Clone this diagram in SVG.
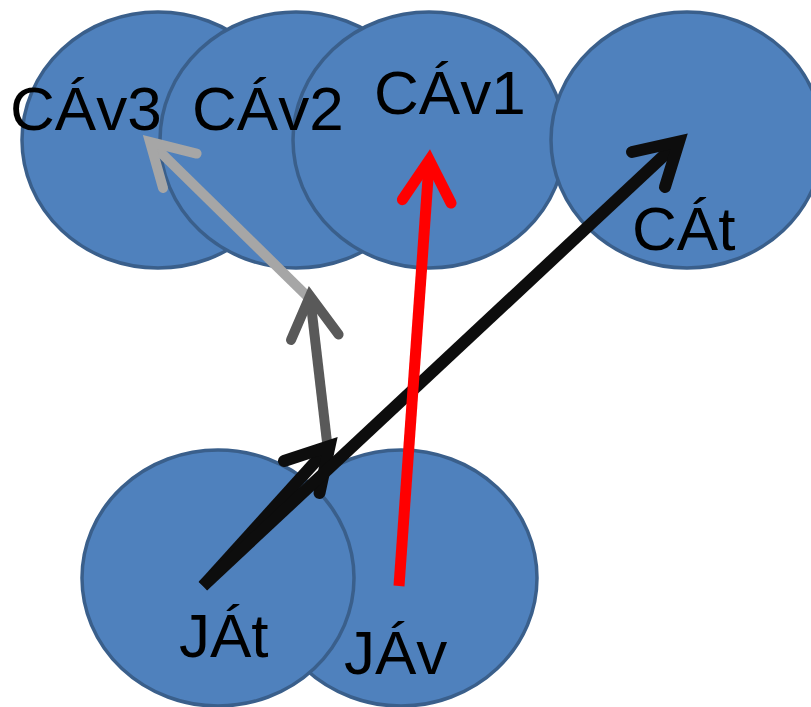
<svg xmlns="http://www.w3.org/2000/svg" width="811" height="707" viewBox="0 0 811 707">
<style>
.n{fill:#4F81BD;stroke:#3A5F8B;stroke-width:3.5}
.t{font-family:"Liberation Sans",Arial,sans-serif;font-size:62px;fill:#000}
.l{fill:none;stroke-linecap:butt}
.h{fill:none;stroke-linecap:round;stroke-linejoin:miter;stroke-miterlimit:10}
</style>
<rect width="811" height="707" fill="#fff"/>
<g id="CAv3"><ellipse class="n" cx="158" cy="140" rx="136" ry="128"/></g>
<g id="CAv2"><ellipse class="n" cx="296" cy="140" rx="136" ry="128"/></g>
<g id="CAv1"><ellipse class="n" cx="429" cy="140" rx="136" ry="128"/></g>
<g id="CAt"><ellipse class="n" cx="687" cy="140" rx="136" ry="128"/></g>
<g id="JAv"><ellipse class="n" cx="401" cy="578" rx="136" ry="128"/></g>
<g id="JAt"><ellipse class="n" cx="218" cy="578" rx="136" ry="128"/></g>
<g id="labels">
<text class="t" x="10" y="130">CÁv3</text>
<text class="t" x="192" y="130">CÁv2</text>
<text class="t" x="374" y="114">CÁv1</text>
<text class="t" x="632" y="250">CÁt</text>
<text class="t" x="179" y="657">JÁt</text>
<text class="t" x="344" y="674">JÁv</text>
</g>
<g id="connectors">
<g stroke="#A6A6A6" stroke-width="10">
<line class="l" x1="308" y1="297" x2="150" y2="142"/>
<polyline class="h" points="196.6,153.6 150,142 163,188"/>
</g>
<g stroke="#595959" stroke-width="10">
<line class="l" x1="327" y1="442" x2="310" y2="296"/>
<polyline class="h" points="338.6,334.5 310,296 291,340"/>
</g>
<g stroke="#0D0D0D" stroke-width="12">
<line class="l" x1="203" y1="586" x2="329.6" y2="446"/>
<polyline class="h" points="319.5,493 329.6,446 284,461"/>
<line class="l" x1="203" y1="586" x2="679" y2="141.5"/>
<polyline class="h" points="665,187 679,141.5 632,152"/>
</g>
<g stroke="#FF0000" stroke-width="11">
<line class="l" x1="399" y1="586" x2="429.3" y2="160"/>
<polyline class="h" points="451,203 429.3,160 402.4,199.7"/>
</g>
</g>
</svg>
